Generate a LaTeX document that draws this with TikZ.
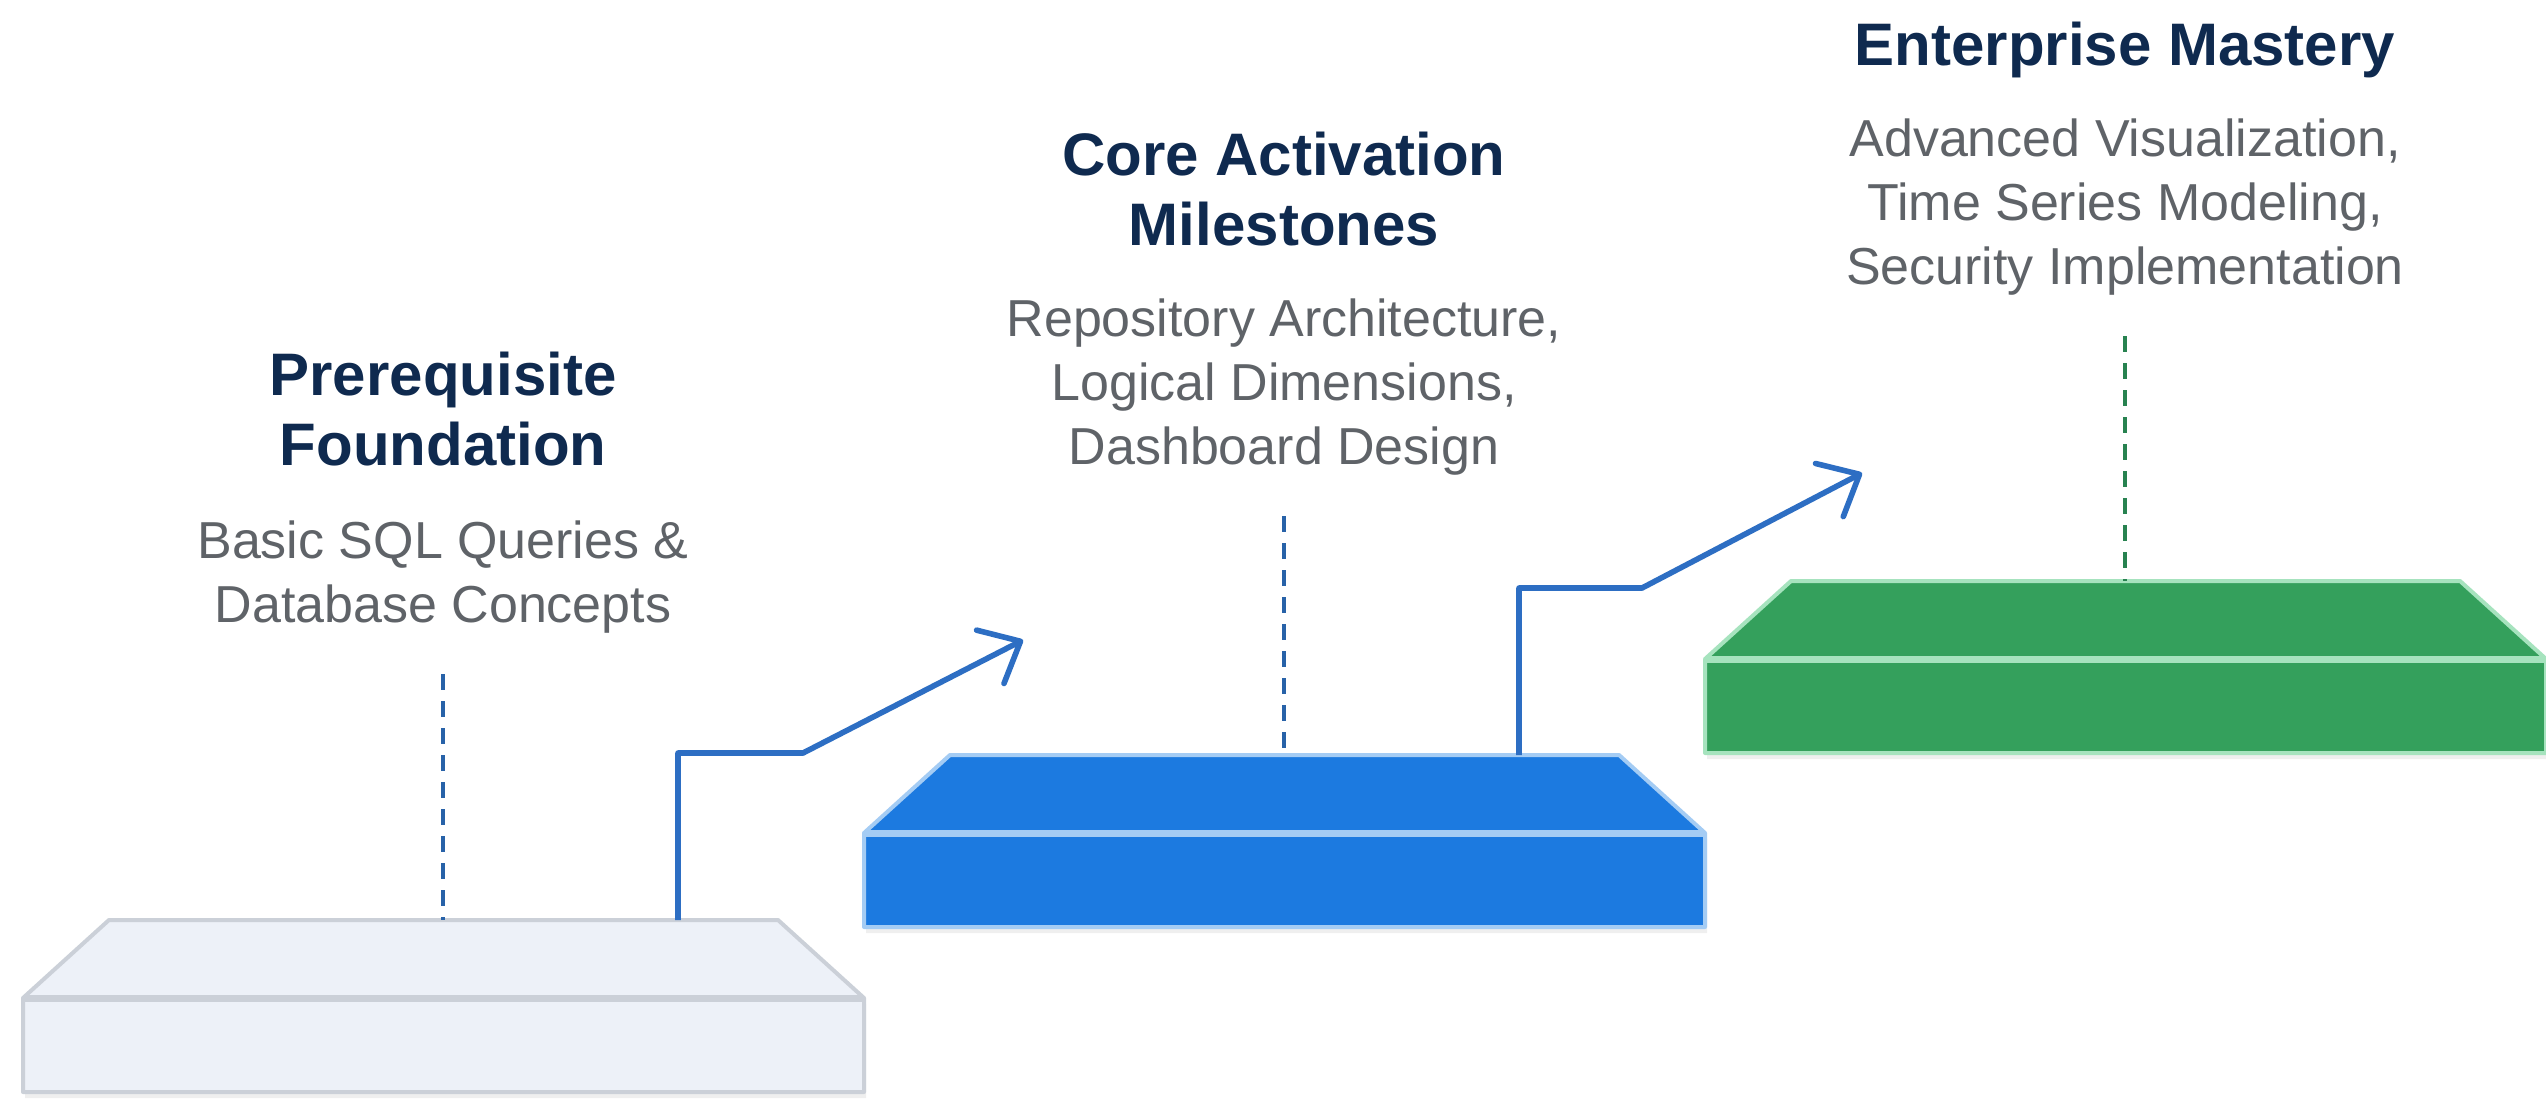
\documentclass[tikz,border=0pt]{standalone}
\usepackage{fontspec}
\setmainfont{Liberation Sans}
\usetikzlibrary{arrows.meta,positioning,shadows}

\definecolor{navy}{RGB}{15,42,79}
\definecolor{txtgray}{RGB}{95,99,104}
\definecolor{linkblue}{RGB}{45,110,195}
\definecolor{dashblue}{RGB}{40,98,168}
\definecolor{dashgreen}{RGB}{40,130,80}
\definecolor{slabgray}{RGB}{237,241,248}
\definecolor{rimgray}{RGB}{203,208,216}
\definecolor{slabblue}{RGB}{28,122,224}
\definecolor{rimblue}{RGB}{164,204,244}
\definecolor{slabgreen}{RGB}{52,160,92}
\definecolor{rimgreen}{RGB}{166,227,190}

% one stair slab: name, left x, front top y, fill, rim
\def\slab#1#2#3#4#5{%
  \filldraw[fill=#4,draw=#5,line width=2pt,line join=round,
            drop shadow={opacity=.12,shadow xshift=1pt,shadow yshift=-3pt}]
    (#2,#3) -- ++(86,-78) -- ++(669,0) -- ++(86,78) -- ++(0,94) -- ++(-841,0) -- cycle;
  \draw[#5,line width=3.5pt] (#2,#3) -- ++(841,0);
  \path (#2,#3) ++(420,-78) coordinate (#1) ++(235,0) coordinate (#1r);
}

\begin{document}
\begin{tikzpicture}[x=0.5pt,y=-0.5pt,>={Straight Barb[length=17pt,width=30pt,round]},
    title node/.style={font=\fontsize{30}{35}\selectfont\bfseries,text=navy,align=center,inner sep=0pt},
    desc node/.style={font=\fontsize{26}{32}\selectfont,text=txtgray,align=center,inner sep=0pt},
    linkline/.style={->,linkblue,line width=2.8pt,line join=round},
    guideline/.style={dash pattern=on 8pt off 5.5pt,line width=1.8pt,shorten <=20pt}]

  \useasboundingbox (0,0) rectangle (2546,1098);
  \fill[white] (0,0) rectangle (2546,1098);

  \slab{p1}{23}{998}{slabgray}{rimgray}
  \slab{p2}{864}{833}{slabblue}{rimblue}
  \slab{p3}{1705}{659}{slabgreen}{rimgreen}

  \node[title node,anchor=north] (t1) at (p1 |- 0,352) {Prerequisite\\Foundation};
  \node[desc node,below=27pt of t1] (d1) {Basic SQL Queries \&\\Database Concepts};

  \node[title node,anchor=north] (t2) at (p2 |- 0,132) {Core Activation\\Milestones};
  \node[desc node,below=26pt of t2] (d2) {Repository Architecture,\\Logical Dimensions,\\Dashboard Design};

  \node[title node,anchor=north] (t3) at (p3 |- 0,22) {Enterprise Mastery};
  \node[desc node,below=20pt of t3] (d3) {Advanced Visualization,\\Time Series Modeling,\\Security Implementation};

  \draw[guideline,dashblue] (d1) -- (p1);
  \draw[guideline,dashblue] (d2) -- (p2);
  \draw[guideline,dashgreen] (d3) -- (p3);

  \coordinate (k1) at (803,753);
  \coordinate (a1) at (1023,640);
  \coordinate (k2) at (1642,588);
  \coordinate (a2) at (1862,473);
  \draw[linkline] (p1r) |- (k1) -- (a1);
  \draw[linkline] (p2r) |- (k2) -- (a2);
\end{tikzpicture}
\end{document}
